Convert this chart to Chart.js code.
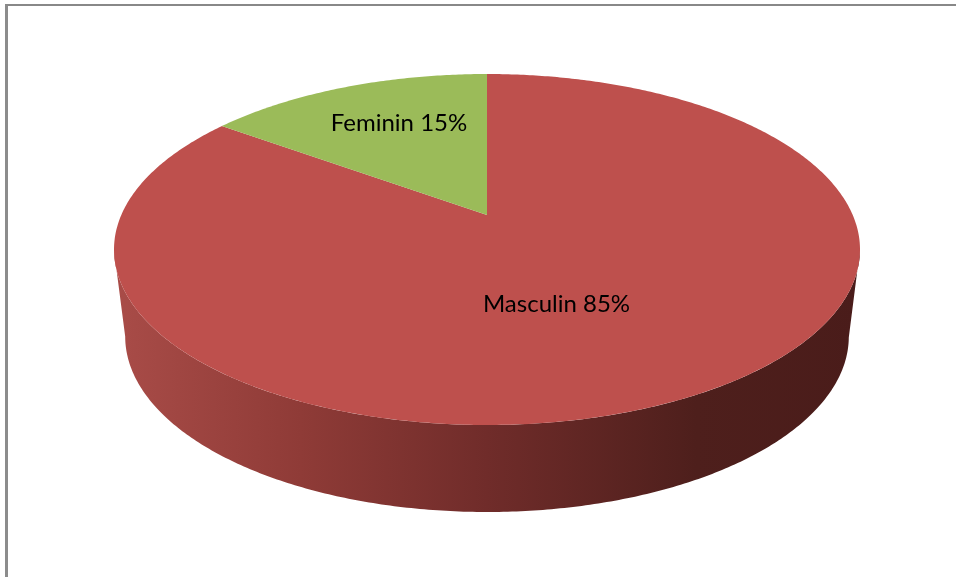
<!DOCTYPE html>
<html>
<head>
<meta charset="utf-8">
<title>Feminin / Masculin</title>
<script src="https://cdn.jsdelivr.net/npm/chart.js@4"></script>
<style>
  html, body { margin: 0; padding: 0; background: #fff; overflow: hidden; }
  #wrap { position: relative; width: 956px; height: 577px; }
  #frame { position: absolute; left: 5px; top: 4px; right: 0; bottom: 0; border-top: 2px solid #888; border-left: 3px solid #8c8c8c; }
  #pie { position: absolute; left: 0; top: 0; }
</style>
</head>
<body>
<div id="wrap">
  <div id="frame"></div>
  <canvas id="pie" width="956" height="577"></canvas>
</div>
<script>
var categories = ['Masculin', 'Feminin'];
var values = [85, 15];
var colors = ['#BE504D', '#9BBB59'];

// Perspective of the tilted disc, applied to the arcs Chart.js lays out
var tilt = -0.1966, stretchX = 1.701, stretchY = 0.7847;
var wallDepth = 87, wallShrink = 0.97;
var labelOffsets = [[69.5, 89], [-88, -92]];

function project(arc, angle, lower) {
  var u = Math.cos(angle), v = Math.sin(angle);
  var w = 1 + tilt * v;
  var dx = stretchX * arc.outerRadius * u / w;
  var dy = stretchY * arc.outerRadius * v / w;
  if (lower) return [arc.x + dx * wallShrink, arc.y + dy + wallDepth];
  return [arc.x + dx, arc.y + dy];
}

function wallGradient(ctx, arc) {
  var half = stretchX * arc.outerRadius * 1.02;
  var g = ctx.createLinearGradient(arc.x - half, 0, arc.x + half, 0);
  g.addColorStop(0, '#A94C48');
  g.addColorStop(0.25, '#8F3B37');
  g.addColorStop(0.5, '#702C2A');
  g.addColorStop(0.78, '#4E1F1C');
  g.addColorStop(1, '#4A1C1A');
  return g;
}

var tiltedPie = {
  id: 'tiltedPie',
  beforeDatasetDraw: function (chart) {
    var ctx = chart.ctx;
    var arcs = chart.getDatasetMeta(0).data;
    var i, a, p;

    // side wall, front half only: the masculin slice covers all of it
    var big = arcs[0];
    var from = Math.asin(-tilt), to = Math.PI - from;
    ctx.save();
    ctx.beginPath();
    for (a = from; a <= to; a += 0.01) {
      p = project(big, a, false);
      ctx.lineTo(p[0], p[1]);
    }
    for (a = to; a >= from; a -= 0.01) {
      p = project(big, a, true);
      ctx.lineTo(p[0], p[1]);
    }
    ctx.closePath();
    ctx.fillStyle = wallGradient(ctx, big);
    ctx.fill();

    // top face
    arcs.forEach(function (arc, n) {
      ctx.beginPath();
      ctx.moveTo(arc.x, arc.y);
      for (a = arc.startAngle; a < arc.endAngle; a += 0.01) {
        p = project(arc, a, false);
        ctx.lineTo(p[0], p[1]);
      }
      p = project(arc, arc.endAngle, false);
      ctx.lineTo(p[0], p[1]);
      ctx.closePath();
      ctx.fillStyle = colors[n];
      ctx.fill();
    });

    // labels
    ctx.font = '24px Lato';
    ctx.fillStyle = '#000';
    ctx.textAlign = 'center';
    ctx.textBaseline = 'middle';
    for (i = 0; i < arcs.length; i++) {
      ctx.fillText(categories[i] + ' ' + values[i] + '%',
        arcs[i].x + labelOffsets[i][0], arcs[i].y + labelOffsets[i][1]);
    }
    ctx.restore();
    return false;
  }
};

new Chart(document.getElementById('pie'), {
  type: 'pie',
  data: {
    labels: categories,
    datasets: [{ data: values, backgroundColor: colors, borderWidth: 0 }]
  },
  options: {
    responsive: false,
    animation: false,
    layout: { padding: { left: 18, bottom: 147 } },
    plugins: { legend: { display: false }, tooltip: { enabled: false } }
  },
  plugins: [tiltedPie]
});
</script>
</body>
</html>
